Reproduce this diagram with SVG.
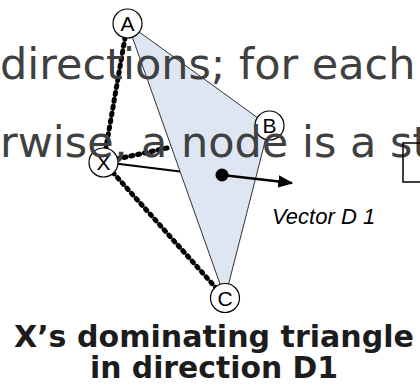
<svg xmlns="http://www.w3.org/2000/svg" width="420" height="391" viewBox="0 0 420 391">
<defs>
<style>
.bg{font-family:"DejaVu Sans",Verdana,sans-serif;font-size:43px;fill:#404040}
.cap{font-family:"DejaVu Sans",Verdana,sans-serif;font-size:31px;font-weight:bold;fill:#1c1c1c}
.node circle{fill:#fff;stroke:#000;stroke-width:1.2}
.node text{font-family:"Liberation Sans",Arial,sans-serif;font-size:21px;fill:#000;text-anchor:middle}
.dot{stroke:#000;stroke-width:5;stroke-dasharray:2 5;stroke-linecap:round;fill:none}
</style>
<marker id="ah" markerWidth="6" markerHeight="5" refX="5.5" refY="2.5" orient="auto" markerUnits="strokeWidth">
<path d="M0,0 L6,2.5 L0,5 Z" fill="#000"/>
</marker>
</defs>
<rect width="420" height="391" fill="#fff"/>
<polygon id="triangle" points="127.5,23.5 269,126 225,298" fill="#dde6f2" stroke="#333" stroke-width="1"/>
<g id="connectors">
<line class="dot" x1="127.5" y1="23.5" x2="103.5" y2="162"/>
<line class="dot" x1="103.5" y1="162" x2="225" y2="298"/>
<line class="dot" x1="103.5" y1="162" x2="171.5" y2="147"/>
<line x1="103.5" y1="162" x2="180" y2="171.5" stroke="#000" stroke-width="1.8"/>
</g>
<g id="nodeA" class="node"><circle cx="127.5" cy="23.5" r="14.5"/><text x="127.5" y="31">A</text></g>
<g id="nodeB" class="node"><circle cx="269.5" cy="125.5" r="14.5"/><text x="269.5" y="133">B</text></g>
<g id="nodeX" class="node"><circle cx="103.5" cy="162.5" r="14.5"/><text x="103.5" y="170">X</text></g>
<g id="nodeC" class="node"><circle cx="225" cy="298" r="14.5"/><text x="225" y="305.5">C</text></g>
<text class="bg" x="0" y="79">directions; for each</text>
<text class="bg" x="0" y="157">rwise, a node is a st</text>
<rect x="403" y="143" width="20" height="39" fill="none" stroke="#000" stroke-width="1.5"/>
<g id="vector">
<circle cx="222" cy="175" r="6.5" fill="#000"/>
<line x1="222" y1="175" x2="292" y2="183" stroke="#000" stroke-width="2.5" marker-end="url(#ah)"/>
<text x="272" y="224" font-family="Liberation Sans, Arial, sans-serif" font-size="22" font-style="italic" fill="#000">Vector D 1</text>
</g>
<text class="cap" x="214" y="347" text-anchor="middle" textLength="400" lengthAdjust="spacingAndGlyphs">X’s dominating triangle</text>
<text class="cap" x="214" y="378" text-anchor="middle" textLength="248" lengthAdjust="spacingAndGlyphs">in direction D1</text>
</svg>
